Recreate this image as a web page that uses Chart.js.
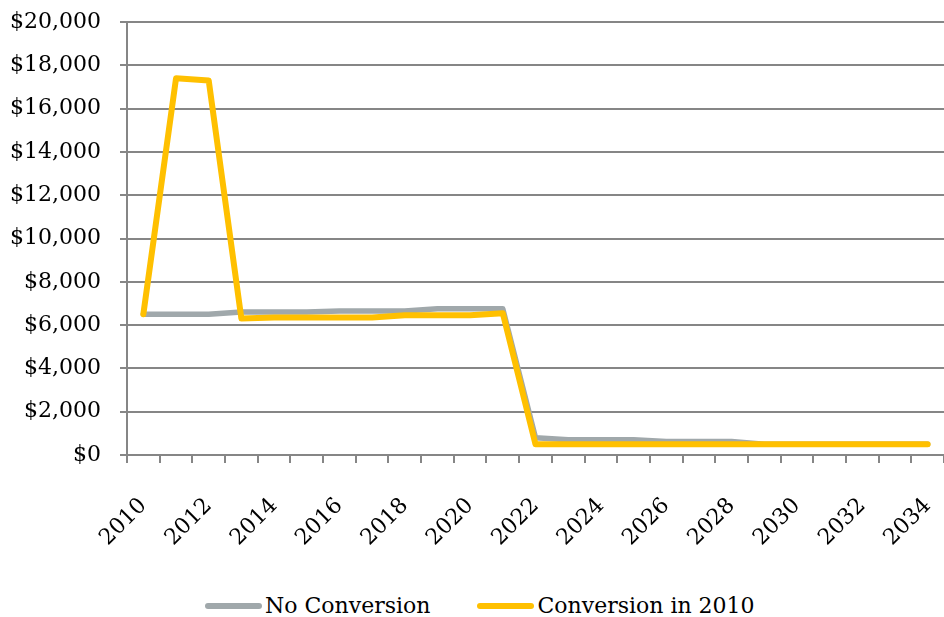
<!DOCTYPE html>
<html>
<head>
<meta charset="utf-8">
<script src="https://cdn.jsdelivr.net/npm/chart.js@4.4.1/dist/chart.umd.min.js"></script>
<style>
  html, body { margin: 0; padding: 0; background: #ffffff; }
  #wrap { position: relative; width: 944px; height: 570px; }
  #legend { position: relative; top: 12px; display: flex; justify-content: flex-start; align-items: center;
            height: 47px; padding-left: 205px;
            font-family: "DejaVu Serif", serif; font-size: 22px; color: #000; }
  .item { display: flex; align-items: center; margin-right: 47px; white-space: nowrap; }
  .swatch { width: 57px; height: 6px; border-radius: 3px; margin-right: 3px; }
</style>
</head>
<body>
<div id="wrap"><canvas id="chart"></canvas></div>
<div id="legend"></div>
<script>
/************************************************************
    Cost per year, with and without conversion
*************************************************************/

var years = ['2010','2011','2012','2013','2014','2015','2016','2017','2018','2019','2020','2021',
             '2022','2023','2024','2025','2026','2027','2028','2029','2030','2031','2032','2033','2034'];

var noConversion = [6500, 6500, 6500, 6600, 6600, 6600, 6650, 6650, 6650, 6750, 6750, 6750,
                    800, 700, 700, 700, 620, 620, 620, 500, 500, 500, 500, 500, 500];

var conversion2010 = [6500, 17400, 17300, 6300, 6350, 6350, 6350, 6350, 6450, 6450, 6450, 6550,
                      500, 500, 500, 500, 500, 500, 500, 500, 500, 500, 500, 500, 500];

var yTicks = [0, 2000, 4000, 6000, 8000, 10000, 12000, 14000, 16000, 18000, 20000];

var seriesNames = ['No Conversion', 'Conversion in 2010'];
var seriesColors = ['#a0a8ab', '#ffc000'];

var axisColor = '#868686';
var font = { family: '"DejaVu Serif", serif', size: 22 };

//Dollars with commas
function money(x) {
    return '$' + x.toString().replace(/\B(?=(\d{3})+(?!\d))/g, ',');
}

new Chart(document.getElementById('chart'), {
    type: 'line',
    data: {
      labels: years,
      datasets: [
        {
          label: seriesNames[0],
          data: noConversion,
          borderColor: seriesColors[0],
          borderWidth: 5.5,
          pointRadius: 0,
          borderCapStyle: 'round',
          borderJoinStyle: 'round',
          order: 2
        },
        {
          label: seriesNames[1],
          data: conversion2010,
          borderColor: seriesColors[1],
          borderWidth: 6,
          pointRadius: 0,
          borderCapStyle: 'round',
          borderJoinStyle: 'round',
          order: 1
        }
      ]
    },
    options: {
      responsive: true,
      maintainAspectRatio: false,
      animation: false,
      layout: { padding: { top: 22, right: 0, left: 0, bottom: 0 } },
      plugins: {
        legend: { display: false },
        tooltip: { enabled: false }
      },
      scales: {
        x: {
          offset: true,
          grid: { display: true, drawOnChartArea: false, offset: true, color: axisColor, lineWidth: 2, tickLength: 8 },
          border: { color: axisColor, width: 2 },
          ticks: {
            autoSkip: false, minRotation: 45, maxRotation: 45, padding: 30,
            color: '#000', font: font,
            callback: function (value, index) { return index % 2 === 0 ? years[index] : ''; }
          },
          // keep the plot edge to edge like the original
          afterFit: function (s) { s.height = 115; s.paddingLeft = 0; s.paddingRight = 0; }
        },
        y: {
          min: 0,
          max: 20000,
          afterBuildTicks: function (s) { s.ticks = yTicks.map(function (v) { return { value: v }; }); },
          grid: { color: axisColor, lineWidth: 2, tickLength: 7 },
          border: { color: axisColor, width: 2 },
          ticks: { color: '#000', font: font, padding: 19, callback: function (v) { return money(v); } },
          afterFit: function (s) { s.width = 127; s.paddingTop = 0; s.paddingBottom = 0; }
        }
      }
    }
});

//Legend below the chart
var legend = document.getElementById('legend');
seriesNames.forEach(function (name, i) {
    legend.innerHTML += '<div class="item"><div class="swatch" style="background:' + seriesColors[i] + '"></div>' + name + '</div>';
});
</script>
</body>
</html>
